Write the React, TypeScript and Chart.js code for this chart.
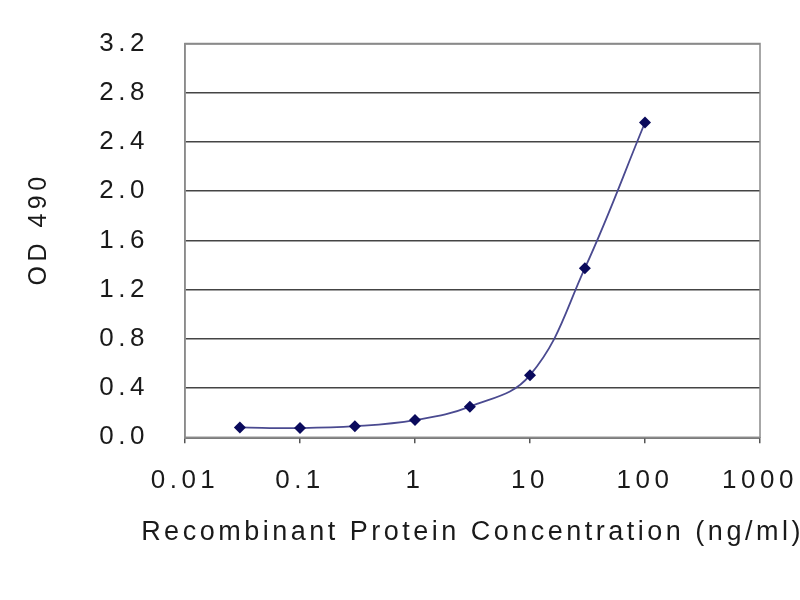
import React, { useEffect, useRef } from "react";
import { Chart, registerables } from "chart.js";

Chart.register(...registerables);

const concentrations = [0.03, 0.1, 0.3, 1, 3, 10, 30, 100];
const odValues = [0.08, 0.075, 0.09, 0.14, 0.249, 0.505, 1.374, 2.558];
const xTickValues = [0.01, 0.1, 1, 10, 100, 1000];
const xTickLabels = ["0.01", "0.1", "1", "10", "100", "1000"];
const yTickValues = [0, 0.4, 0.8, 1.2, 1.6, 2.0, 2.4, 2.8, 3.2];
const yTickLabels = ["0.0", "0.4", "0.8", "1.2", "1.6", "2.0", "2.4", "2.8", "3.2"];
const xTitle = "Recombinant Protein Concentration (ng/ml)";
const yTitle = "OD 490";

const FONT = "'Liberation Sans', Arial, sans-serif";
const SPACING = "4.5px";
const X_TITLE_SPACING = "3.5px";

const spacingPlugin = {
  id: "letterSpacing",
  beforeLayout(chart: any) {
    chart.ctx.letterSpacing = SPACING;
  },
  afterLayout(chart: any) {
    const xs = chart.scales.x;
    if (xs && !xs.__patched) {
      const orig = xs.drawTitle.bind(xs);
      xs.drawTitle = function () {
        const ctx = this.ctx;
        const prev = ctx.letterSpacing;
        const l = this.left;
        const r = this.right;
        const c = (l + r) / 2;
        // widen the title's room so the text is not squeezed to the plot width
        this.left = c - 500;
        this.right = c + 500;
        ctx.letterSpacing = X_TITLE_SPACING;
        orig();
        ctx.letterSpacing = prev;
        this.left = l;
        this.right = r;
      };
      xs.__patched = true;
    }
  },
  beforeDraw(chart: any) {
    chart.ctx.letterSpacing = SPACING;
  },
};

const framePlugin = {
  id: "frame",
  afterDatasetsDraw(chart: any) {
    const { ctx, chartArea } = chart;
    ctx.save();
    ctx.strokeStyle = "#8a8a8a";
    ctx.lineWidth = 1.5;
    ctx.strokeRect(chartArea.left, chartArea.top, chartArea.right - chartArea.left, chartArea.bottom - chartArea.top);
    ctx.restore();
  },
};

export default function App() {
  const ref = useRef<HTMLCanvasElement | null>(null);

  useEffect(() => {
    if (!ref.current) return;
    const chart = new Chart(ref.current, {
      type: "line",
      data: {
        datasets: [
          {
            data: concentrations.map((c, i) => ({ x: c, y: odValues[i] })),
            borderColor: "#4a4a90",
            borderWidth: 1.8,
            backgroundColor: "#0a0a5c",
            pointBackgroundColor: "#0a0a5c",
            pointBorderColor: "#0a0a5c",
            pointStyle: "rectRot",
            pointRadius: 6,
            pointBorderWidth: 0,
            tension: 0.4,
            fill: false,
            clip: false as any,
          },
        ],
      },
      options: {
        animation: false,
        responsive: false,
        layout: { padding: { left: 0, right: 40, top: 43.5, bottom: 0 } },
        plugins: {
          legend: { display: false },
          tooltip: { enabled: false },
        },
        scales: {
          x: {
            type: "logarithmic",
            min: 0.01,
            max: 1000,
            afterBuildTicks: (scale: any) => {
              scale.ticks = xTickValues.map((v) => ({ value: v }));
            },
            afterFit: (scale: any) => {
              scale.height = 600 - 437.3;
              scale.paddingLeft = 0;
              scale.paddingRight = 0;
            },
            ticks: {
              autoSkip: false,
              maxRotation: 0,
              padding: 22,
              color: "#1a1a1a",
              font: { family: FONT, size: 26 },
              callback: (value: any) => {
                const i = xTickValues.findIndex((v) => Math.abs(v - Number(value)) < v * 1e-6);
                return i >= 0 ? xTickLabels[i] : "";
              },
            },
            grid: {
              drawOnChartArea: false,
              drawTicks: true,
              tickLength: 6,
              color: "#555",
              lineWidth: 1.5,
            },
            border: { display: true, color: "#555", width: 1.5 },
            title: {
              display: true,
              text: xTitle,
              color: "#1a1a1a",
              font: { family: FONT, size: 27 },
              padding: { top: 0, bottom: 51 },
            },
          },
          y: {
            type: "linear",
            min: 0,
            max: 3.2,
            afterBuildTicks: (scale: any) => {
              scale.ticks = yTickValues.map((v) => ({ value: v }));
            },
            afterFit: (scale: any) => {
              scale.width = 185;
              scale.paddingTop = 0;
              scale.paddingBottom = 0;
            },
            ticks: {
              autoSkip: false,
              padding: 36,
              color: "#1a1a1a",
              font: { family: FONT, size: 26 },
              callback: (value: any) => {
                const i = yTickValues.findIndex((v) => Math.abs(v - Number(value)) < 1e-6);
                return i >= 0 ? yTickLabels[i] : "";
              },
            },
            grid: {
              drawTicks: false,
              color: "#444",
              lineWidth: 1.5,
            },
            border: { display: true, color: "#8a8a8a", width: 1.5 },
            title: {
              display: true,
              text: "  " + yTitle,
              color: "#1a1a1a",
              font: { family: FONT, size: 25 },
              padding: { top: 24, bottom: 0 },
            },
          },
        },
      },
      plugins: [spacingPlugin, framePlugin],
    });
    return () => chart.destroy();
  }, []);

  return (
    <div style={{ position: "fixed", left: 0, top: 0, width: 800, height: 600, background: "#fff" }}>
      <canvas ref={ref} width={800} height={600} style={{ width: 800, height: 600, display: "block" }} />
    </div>
  );
}
